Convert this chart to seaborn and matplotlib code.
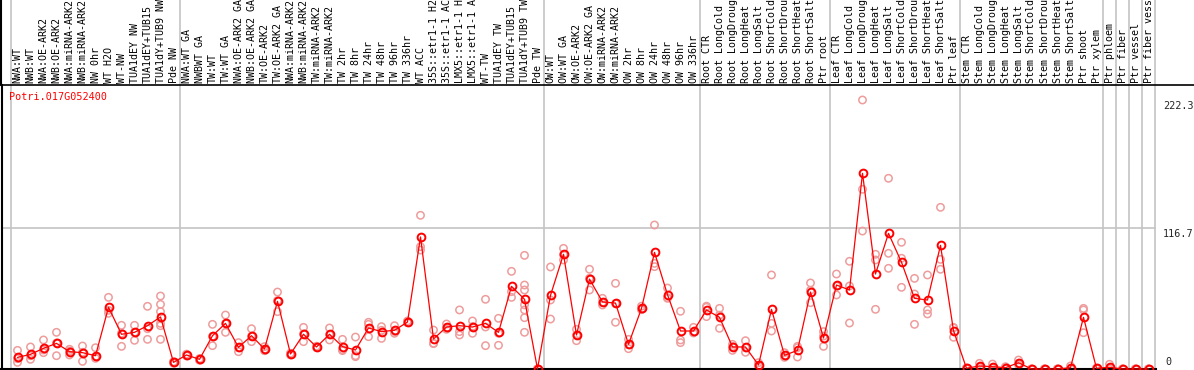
import numpy as np
import pandas as pd
import matplotlib
matplotlib.use("Agg")
import matplotlib.pyplot as plt
from matplotlib.lines import Line2D
import seaborn as sns

sns.set_style("white")
plt.rcParams['font.family'] = ['DejaVu Sans Mono', 'DejaVu Sans']

gene = "Potri.017G052400"

# sample names as they show in the header (the long ones are cut off there)
labels = [
    "NWA:WT", "NWB:WT", "NWA:OE-ARK2", "NWB:OE-ARK2", "NWA:miRNA-ARK2", "NWB:miRNA-ARK2",
    "NW 0hr", "WT H2O", "WT-NW", "TUA1dEY NW", "TUA1dEY+TUB15", "TUA1dY+TUB9 NW", "Pde NW",
    "NWA:WT GA", "NWBWT GA", "TW:WT", "TW:WT GA", "NWA:OE-ARK2 GA", "NWB:OE-ARK2 GA",
    "TW:OE-ARK2", "TW:OE-ARK2 GA", "NWA:miRNA-ARK2", "NWB:miRNA-ARK2", "TW:miRNA-ARK2",
    "TW:miRNA-ARK2", "TW 2hr", "TW 8hr", "TW 24hr", "TW 48hr", "TW 96hr", "TW 336hr",
    "WT ACC", "35S::etr1-1 H2", "35S::etr1-1 AC", "LMX5::etr1-1 H", "LMX5::etr1-1 A",
    "WT-TW", "TUA1dEY TW", "TUA1dEY+TUB15", "TUA1dY+TUB9 TW", "Pde TW",
    "OW:WT", "OW:WT GA", "OW:OE-ARK2", "OW:OE-ARK2 GA", "OW:miRNA-ARK2", "OW:miRNA-ARK2",
    "OW 2hr", "OW 8hr", "OW 24hr", "OW 48hr", "OW 96hr", "OW 336hr",
    "Root CTR", "Root LongCold", "Root LongDroug", "Root LongHeat", "Root LongSalt",
    "Root ShortCold", "Root ShortDrou", "Root ShortHeat", "Root ShortSalt", "Ptr root",
    "Leaf CTR", "Leaf LongCold", "Leaf LongDroug", "Leaf LongHeat", "Leaf LongSalt",
    "Leaf ShortCold", "Leaf ShortDrou", "Leaf ShortHeat", "Leaf ShortSalt", "Ptr leaf",
    "Stem CTR", "Stem LongCold", "Stem LongDroug", "Stem LongHeat", "Stem LongSalt",
    "Stem ShortCold", "Stem ShortDrou", "Stem ShortHeat", "Stem ShortSalt", "Ptr shoot",
    "Ptr xylem", "Ptr phloem", "Ptr fiber", "Ptr vessel", "Ptr fiber vess",
]

# number of samples in each experiment block
group_sizes = [13, 28, 12, 10, 10, 11, 1, 1, 1, 1]

means = [
    9.6, 12.1, 17.1, 21.2, 14.3, 13.5, 11.0, 51.0, 28.7, 30.3, 35.8, 43.0, 5.5,
    11.6, 8.0, 27.5, 37.7, 17.9, 27.5, 16.5, 55.9, 12.4, 28.7, 18.2, 28.7, 18.5, 15.7,
    33.9, 30.9, 32.0, 38.8, 109.1, 24.8, 34.7, 35.8, 34.7, 37.7, 30.3, 68.3, 57.6, 0.0,
    60.9, 94.8, 28.1, 74.3, 55.4, 54.5, 20.4, 50.1, 96.4, 61.4, 31.4, 31.4,
    48.8, 42.7, 18.2, 18.2, 3.3, 49.3, 11.3, 15.4, 63.6, 25.6,
    69.4, 65.3, 161.7, 78.5, 112.1, 88.2, 58.4, 57.0, 102.2, 31.7,
    0.6, 2.5, 1.9, 1.1, 5.2, 0.0, 0.0, 0.0, 1.1, 42.7, 0.6,
    1.4, 0.0, 0.0, 0.0,
]

reps = [
    [15.4, 5.5, 8.5], [18.2, 8.0, 11.0], [24.0, 13.5, 15.7], [30.3, 11.0, 21.5],
    [16.3, 11.6, 14.8], [19.0, 6.3, 13.8], [17.6, 8.8, 10.2], [59.2, 46.0, 48.5],
    [36.1, 18.7, 29.5], [36.1, 23.7, 30.3], [51.8, 24.5, 33.3],
    [60.3, 53.4, 47.4, 37.7, 35.8, 24.5], [5.5, 4.8, 6.0],
    [11.6, 10.8, 12.3], [8.0, 7.2, 8.6], [36.9, 19.3, 27.0], [44.6, 30.3, 37.5],
    [21.8, 14.3, 17.5], [33.3, 22.6, 27.0], [18.5, 15.1, 16.2], [63.6, 47.4, 56.5],
    [11.6, 13.0, 12.6], [34.4, 22.6, 29.0], [18.2, 17.6, 18.8], [33.9, 24.0, 28.3],
    [24.5, 15.2, 16.0], [26.4, 10.2, 11.0], [38.6, 26.7, 36.9], [35.0, 25.3, 32.0],
    [35.8, 29.5, 31.0], [38.3, 39.7, 38.5], [127.0, 101.1, 98.3], [32.2, 21.2, 21.0],
    [37.2, 32.8, 34.0], [48.8, 28.1, 30.9], [39.7, 29.5, 35.0], [57.6, 34.7, 19.3],
    [41.9, 19.6, 29.5], [80.7, 59.2, 63.9], [93.9, 69.4, 65.3, 48.8, 42.4, 30.3, 53.0],
    [0.0, 0.0, 0.0],
    [84.3, 57.0, 41.3], [99.7, 90.1, 94.5], [32.8, 23.4, 28.0], [82.4, 65.3, 75.0],
    [58.4, 52.9, 55.0], [70.8, 38.6, 54.0], [24.5, 16.8, 20.0], [51.9, 49.5, 49.0],
    [119.0, 84.6, 87.3], [66.9, 58.4, 59.0], [47.7, 24.0, 21.8], [34.4, 30.3, 29.8],
    [51.9, 43.3, 51.0], [50.1, 33.6, 44.5], [20.4, 15.4, 18.5], [23.4, 13.8, 17.5],
    [5.2, 2.0, 2.8], [77.7, 37.7, 31.4], [13.5, 9.6, 10.8], [18.7, 9.9, 17.6],
    [71.1, 54.8, 65.0], [30.9, 18.7, 27.2],
    [78.5, 61.2, 68.5], [89.0, 68.6, 38.0], [222.3, 148.5, 114.0], [94.8, 90.1, 49.3],
    [157.6, 95.6, 83.2], [104.7, 91.5, 67.5], [74.9, 62.0, 36.9], [77.7, 48.8, 45.5],
    [133.6, 90.6, 82.4], [34.4, 26.2, 34.0],
    [0.6, 0.4, 0.8], [4.7, 1.5, 1.3], [4.1, 1.0, 0.6], [1.9, 0.8, 0.6], [7.4, 4.8, 3.4],
    [0.0, 0.0, 0.0], [0.0, 0.0, 0.0], [0.0, 0.0, 0.0], [2.5, 0.5, 0.3],
    [50.1, 48.8, 30.0], [0.6, 0.5, 0.7],
    [3.9, 0.2, 0.1], [0.0, 0.0, 0.0], [0.0, 0.0, 0.0], [0.0, 0.0, 0.0],
]

ytick_vals = [222.3, 116.7, 0]

pos = np.arange(len(labels))
rep_df = pd.DataFrame([(i, v) for i, r in enumerate(reps) for v in r], columns=["pos", "val"])
mean_df = pd.DataFrame({"pos": pos, "val": means})

W, H = 1194, 370
fig = plt.figure(figsize=(W / 100, H / 100), dpi=100)

# main plot area: px 1.5..1156 horizontally, 85..369 vertically
ax = fig.add_axes([1.5 / W, 1 / H, 1154.5 / W, 284 / H])
top = fig.add_axes([1.5 / W, 285 / H, 1154.5 / W, 85 / H], sharex=ax)

xl = (-(17.5 - 1.5) / 13, -(17.5 - 1.5) / 13 + 1154.5 / 13)
ax.set_xlim(*xl)
scale = 222.3 / 269.0
ax.set_ylim(0, 284 * scale)

grid_c = "#c4c4c4"
edges = np.concatenate([[-0.5], np.cumsum(group_sizes) - 0.5])
for e in edges:
    ax.axvline(e, color=grid_c, lw=1.2, zorder=0)
    top.axvline(e, color=grid_c, lw=1.2, zorder=0)
ax.axhline(ytick_vals[1], color=grid_c, lw=1.2, zorder=0, xmax=(edges[-1] - xl[0]) / (xl[1] - xl[0]))

sns.scatterplot(data=rep_df, x="pos", y="val", ax=ax, marker="o", s=28,
                facecolor="none", edgecolor="#ee9c9c", linewidth=1.1, zorder=2, legend=False)
sns.lineplot(data=mean_df, x="pos", y="val", ax=ax, color="red", lw=0.9, marker="o",
             markersize=5.6, markerfacecolor="none", markeredgecolor="red",
             markeredgewidth=1.4, zorder=3, clip_on=False)

ax.set_xticks([])
ax.set_yticks([])
ax.set_xlabel("")
ax.set_ylabel("")
for s in ["top", "right"]:
    ax.spines[s].set_visible(False)
for s in ["left", "bottom"]:
    ax.spines[s].set_color("black")
    ax.spines[s].set_linewidth(1.5)

top.set_ylim(0, 85)
top.axis("off")
top.add_line(Line2D([xl[0], xl[0]], [0, 85], color="black", lw=1.5, clip_on=False))
for i, lab in enumerate(labels):
    top.text(i, 1.6, lab, rotation=90, ha="center", va="bottom", fontsize=7.2, color="black")

fig.add_artist(Line2D([0, 1], [285 / H, 285 / H], color="black", lw=1.2))

ax.text((9 - 1.5) / 1154.5, 1 - (97 - 85) / 284, gene, transform=ax.transAxes,
        ha="left", va="center", color="red", fontsize=7.3)

yt = ax.get_yaxis_transform()
ax.text((1163 - 1.5) / 1154.5, ytick_vals[0] - 1.2, "222.3", transform=yt, ha="left", va="top", fontsize=7.3)
ax.text((1163 - 1.5) / 1154.5, ytick_vals[1] - 0.8, "116.7", transform=yt, ha="left", va="top", fontsize=7.3)
ax.text((1165 - 1.5) / 1154.5, ytick_vals[2] + 2.0, "0", transform=yt, ha="left", va="bottom", fontsize=7.3)

fig.savefig("out.png", dpi=100)
